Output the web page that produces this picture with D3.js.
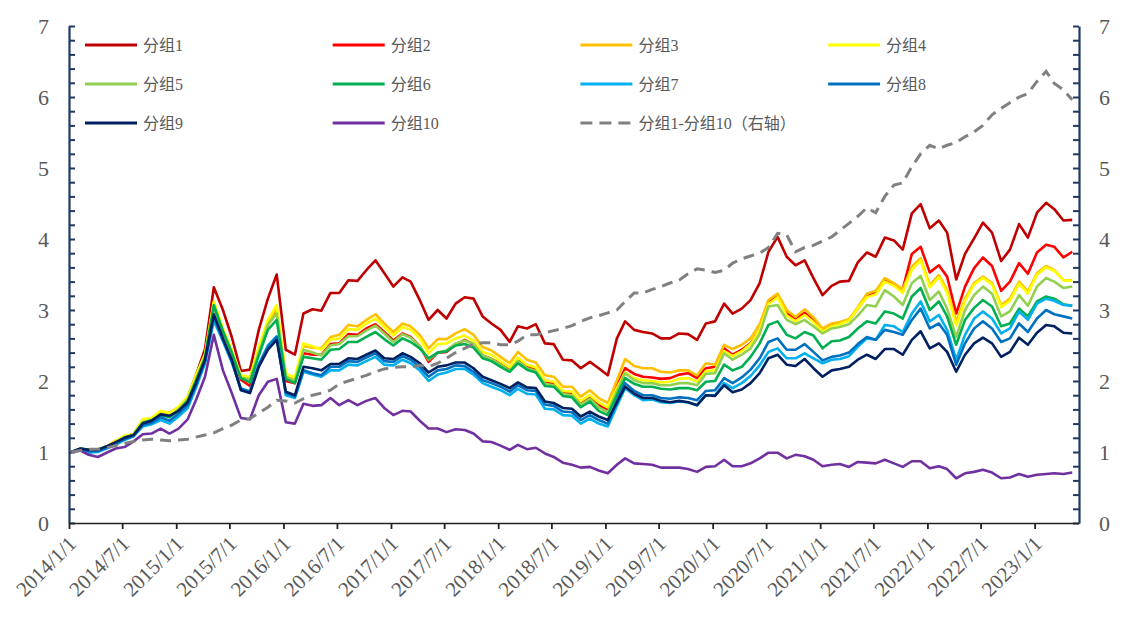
<!DOCTYPE html>
<html><head><meta charset="utf-8">
<script src="https://cdn.jsdelivr.net/npm/d3@7"></script>
<style>html,body{margin:0;padding:0;background:#fff;}svg{display:block;}</style>
</head><body>
<svg id="c" width="1122" height="630"></svg>
<script>
// ---- data (monthly, 2014/1 .. 2023/5) ----
const startYear = 2014, startMonth = 0, nMonths = 113;
const names = ["分组1","分组2","分组3","分组4","分组5","分组6","分组7","分组8","分组9","分组10","分组1-分组10（右轴）"];
const colors = ["#C00000","#FF0000","#FFC000","#FFFF00","#92D050","#00B050","#00B0F0","#0070C0","#002060","#7030A0","#808080"];
const yTicks = [0,1,2,3,4,5,6,7];

const g1 = [1.00,1.04,1.03,1.03,1.07,1.14,1.22,1.25,1.45,1.47,1.56,1.55,1.63,1.77,2.08,2.45,
3.32,3.00,2.62,2.14,2.16,2.72,3.16,3.50,2.44,2.37,2.95,3.01,2.99,
3.24,3.24,3.42,3.41,3.56,3.70,3.52,3.33,3.46,3.40,3.14,2.86,3.00,2.88,3.09,3.18,3.16,2.91,2.81,2.72,2.55,2.77,2.74,2.80,2.53,2.52,2.30,2.29,2.18,2.27,2.18,2.08,
2.60,2.84,2.72,2.69,2.67,2.60,2.60,2.67,2.66,2.58,2.81,2.84,3.09,2.95,3.02,3.14,3.38,3.82,4.03,3.75,3.63,3.70,3.45,3.21,3.34,3.40,3.41,3.67,3.81,
3.75,4.02,3.98,3.85,4.36,4.49,4.15,4.26,4.09,3.43,3.79,4.01,4.23,4.09,3.69,3.85,4.21,4.02,4.37,4.51,4.42,4.26,4.27];
const g2 = [1.00,1.04,1.02,1.03,1.07,1.14,1.21,1.24,1.43,1.45,1.54,1.52,1.61,1.75,2.04,2.35,
3.08,2.70,2.40,2.02,1.93,2.42,2.80,3.00,2.00,1.97,2.39,2.37,2.37,
2.52,2.53,2.66,2.65,2.74,2.80,2.69,2.57,2.67,2.62,2.49,2.27,2.40,2.41,2.51,2.58,2.52,2.36,2.31,2.24,2.16,2.30,2.20,2.16,1.98,1.96,1.84,1.82,1.69,1.77,1.66,1.59,
1.93,2.18,2.10,2.06,2.05,2.03,2.04,2.09,2.11,2.04,2.18,2.20,2.46,2.37,2.44,2.53,2.72,3.12,3.21,2.95,2.88,2.96,2.85,2.72,2.79,2.82,2.86,3.02,3.19,
3.26,3.42,3.35,3.29,3.79,3.89,3.53,3.63,3.47,2.95,3.33,3.59,3.74,3.62,3.27,3.40,3.66,3.51,3.81,3.92,3.89,3.74,3.82];
const g3 = [1.00,1.04,1.03,1.03,1.08,1.16,1.22,1.24,1.44,1.46,1.55,1.53,1.62,1.76,2.05,2.36,
3.10,2.72,2.42,2.07,2.04,2.45,2.82,3.02,2.08,2.03,2.49,2.47,2.46,
2.62,2.65,2.79,2.77,2.86,2.94,2.81,2.69,2.81,2.77,2.65,2.46,2.59,2.59,2.67,2.73,2.65,2.48,2.43,2.34,2.25,2.41,2.30,2.26,2.08,2.06,1.92,1.92,1.78,1.87,1.76,1.69,
2.01,2.31,2.21,2.18,2.18,2.13,2.12,2.15,2.15,2.08,2.25,2.23,2.51,2.45,2.51,2.60,2.80,3.14,3.23,3.00,2.90,3.01,2.90,2.74,2.81,2.83,2.87,3.04,3.23,
3.27,3.45,3.38,3.29,3.61,3.73,3.35,3.49,3.28,2.84,3.16,3.38,3.47,3.38,3.07,3.16,3.40,3.26,3.52,3.62,3.56,3.42,3.42];
const g4 = [1.00,1.04,1.03,1.03,1.07,1.15,1.23,1.25,1.46,1.48,1.58,1.55,1.64,1.78,2.08,2.38,
3.12,2.74,2.44,2.08,2.06,2.48,2.86,3.07,2.10,2.05,2.53,2.49,2.44,
2.58,2.60,2.73,2.72,2.81,2.88,2.76,2.64,2.76,2.72,2.60,2.39,2.52,2.53,2.60,2.64,2.57,2.41,2.37,2.28,2.19,2.33,2.23,2.19,2.01,1.99,1.86,1.85,1.72,1.80,1.70,1.63,
1.90,2.12,2.04,2.01,2.00,1.98,1.99,2.03,2.04,1.99,2.14,2.15,2.42,2.35,2.42,2.52,2.72,3.08,3.18,2.92,2.84,2.93,2.83,2.70,2.77,2.80,2.85,3.02,3.18,
3.22,3.40,3.34,3.24,3.57,3.70,3.32,3.46,3.24,2.78,3.13,3.36,3.45,3.36,3.04,3.13,3.37,3.23,3.50,3.60,3.55,3.42,3.41];
const g5 = [1.00,1.04,1.02,1.02,1.06,1.13,1.21,1.24,1.42,1.44,1.53,1.50,1.60,1.74,2.02,2.34,
3.04,2.70,2.40,2.05,2.02,2.40,2.79,2.95,2.06,2.00,2.44,2.40,2.36,
2.50,2.52,2.63,2.63,2.71,2.78,2.67,2.55,2.66,2.61,2.49,2.30,2.40,2.43,2.53,2.57,2.52,2.36,2.31,2.23,2.14,2.28,2.18,2.14,1.96,1.94,1.82,1.80,1.67,1.75,1.63,1.56,
1.86,2.11,2.01,1.97,1.97,1.94,1.94,1.97,1.97,1.94,2.10,2.11,2.39,2.30,2.37,2.46,2.66,3.05,3.07,2.86,2.80,2.86,2.77,2.67,2.74,2.76,2.80,2.92,3.07,
3.05,3.28,3.19,3.07,3.38,3.48,3.14,3.26,3.02,2.62,3.00,3.21,3.33,3.23,2.91,2.98,3.21,3.06,3.33,3.45,3.40,3.31,3.33];
const g6 = [1.00,1.05,1.03,1.02,1.06,1.13,1.20,1.24,1.41,1.45,1.52,1.49,1.58,1.72,2.00,2.33,
3.07,2.70,2.40,2.04,1.98,2.36,2.72,2.86,2.03,1.97,2.34,2.32,2.30,
2.44,2.45,2.55,2.55,2.62,2.69,2.59,2.50,2.60,2.55,2.46,2.32,2.40,2.42,2.50,2.52,2.47,2.32,2.28,2.20,2.13,2.25,2.16,2.12,1.93,1.92,1.79,1.77,1.63,1.71,1.58,1.52,
1.80,2.04,1.96,1.92,1.92,1.89,1.88,1.90,1.90,1.87,1.99,2.00,2.23,2.15,2.20,2.34,2.53,2.79,2.84,2.65,2.60,2.69,2.64,2.46,2.56,2.57,2.62,2.74,2.84,
2.81,2.98,2.95,2.88,3.19,3.31,3.00,3.12,2.91,2.51,2.86,3.03,3.14,3.05,2.77,2.81,3.02,2.91,3.12,3.19,3.16,3.08,3.06];
const g7 = [1.00,1.03,0.99,1.00,1.05,1.10,1.17,1.22,1.36,1.39,1.45,1.40,1.50,1.62,1.90,2.25,
2.85,2.56,2.26,1.90,1.85,2.24,2.50,2.63,1.80,1.76,2.13,2.09,2.06,
2.15,2.15,2.23,2.22,2.28,2.34,2.23,2.22,2.30,2.25,2.15,2.00,2.09,2.12,2.17,2.17,2.09,1.97,1.92,1.87,1.80,1.89,1.82,1.81,1.61,1.60,1.52,1.51,1.40,1.47,1.40,1.36,
1.65,1.90,1.80,1.73,1.74,1.70,1.69,1.71,1.70,1.66,1.80,1.80,1.97,1.90,1.97,2.07,2.22,2.41,2.46,2.32,2.32,2.39,2.32,2.25,2.30,2.31,2.35,2.48,2.60,
2.58,2.79,2.77,2.69,2.95,3.12,2.84,2.93,2.72,2.30,2.65,2.88,2.98,2.88,2.67,2.74,2.98,2.86,3.09,3.16,3.13,3.07,3.06];
const g8 = [1.00,1.04,1.01,1.01,1.06,1.12,1.18,1.23,1.38,1.41,1.49,1.44,1.54,1.66,1.94,2.28,
2.90,2.58,2.28,1.89,1.85,2.22,2.48,2.62,1.83,1.78,2.15,2.11,2.08,
2.20,2.20,2.28,2.27,2.33,2.39,2.28,2.27,2.35,2.30,2.20,2.06,2.15,2.17,2.22,2.21,2.13,2.01,1.97,1.92,1.85,1.94,1.87,1.86,1.67,1.65,1.57,1.56,1.45,1.52,1.45,1.40,
1.72,1.97,1.86,1.80,1.80,1.76,1.75,1.77,1.76,1.73,1.86,1.87,2.04,1.97,2.05,2.16,2.32,2.55,2.60,2.44,2.44,2.52,2.41,2.29,2.34,2.36,2.40,2.52,2.62,
2.58,2.72,2.69,2.65,2.86,3.02,2.74,2.81,2.65,2.23,2.53,2.74,2.84,2.74,2.55,2.60,2.81,2.69,2.88,3.00,2.94,2.91,2.88];
const g9 = [1.00,1.05,1.03,1.03,1.08,1.14,1.20,1.24,1.40,1.44,1.53,1.51,1.58,1.70,1.97,2.30,
2.94,2.60,2.30,1.87,1.83,2.20,2.44,2.58,1.85,1.80,2.20,2.18,2.15,
2.24,2.24,2.32,2.31,2.37,2.43,2.32,2.31,2.39,2.34,2.25,2.12,2.20,2.22,2.26,2.26,2.18,2.06,2.01,1.96,1.90,1.98,1.91,1.90,1.71,1.69,1.62,1.61,1.50,1.57,1.50,1.45,
1.70,1.92,1.82,1.76,1.76,1.72,1.70,1.72,1.70,1.66,1.80,1.79,1.94,1.84,1.88,1.97,2.11,2.32,2.37,2.23,2.21,2.31,2.18,2.06,2.15,2.17,2.20,2.30,2.37,
2.31,2.45,2.45,2.37,2.58,2.70,2.46,2.53,2.41,2.13,2.37,2.53,2.61,2.53,2.34,2.41,2.61,2.51,2.68,2.79,2.77,2.68,2.67];
const g10 = [1.00,1.02,0.96,0.93,0.99,1.05,1.07,1.15,1.25,1.26,1.33,1.26,1.33,1.46,1.73,2.06,
2.65,2.15,1.83,1.48,1.46,1.80,1.99,2.03,1.42,1.40,1.68,1.65,1.66,
1.76,1.66,1.73,1.66,1.72,1.76,1.62,1.52,1.58,1.57,1.44,1.33,1.33,1.28,1.32,1.31,1.26,1.15,1.14,1.09,1.03,1.10,1.04,1.06,0.98,0.93,0.85,0.82,0.78,0.79,0.74,0.70,
0.82,0.91,0.84,0.83,0.82,0.78,0.78,0.78,0.76,0.72,0.79,0.80,0.89,0.80,0.80,0.84,0.91,0.99,0.99,0.91,0.96,0.94,0.89,0.80,0.82,0.83,0.79,0.86,0.85,
0.84,0.89,0.84,0.79,0.87,0.87,0.77,0.80,0.76,0.63,0.70,0.72,0.75,0.71,0.63,0.64,0.69,0.65,0.68,0.69,0.70,0.69,0.71];
const spread = [1.00,1.02,1.04,1.04,1.06,1.09,1.12,1.15,1.17,1.18,1.17,1.16,1.17,1.18,1.21,1.24,
1.27,1.33,1.38,1.45,1.47,1.55,1.63,1.73,1.72,1.69,1.75,1.80,1.83,
1.87,1.96,2.00,2.04,2.08,2.13,2.17,2.19,2.20,2.20,2.22,2.20,2.25,2.32,2.40,2.46,2.52,2.54,2.54,2.51,2.51,2.56,2.65,2.65,2.68,2.71,2.74,2.78,2.84,2.89,2.92,2.96,
3.00,3.12,3.24,3.24,3.29,3.33,3.38,3.42,3.51,3.58,3.56,3.53,3.56,3.66,3.72,3.76,3.80,3.88,4.08,4.06,3.82,3.88,3.91,3.97,4.03,4.12,4.22,4.32,4.44,
4.37,4.60,4.76,4.79,5.02,5.20,5.32,5.27,5.32,5.36,5.44,5.51,5.60,5.75,5.84,5.92,6.00,6.05,6.22,6.36,6.19,6.10,5.96];

const leftSeries = [g1,g2,g3,g4,g5,g6,g7,g8,g9,g10];
const months = d3.range(nMonths).map(i => new Date(startYear, startMonth + i, 9));

// ---- layout ----
const svg = d3.select("#c");
const W = 1122, H = 630;
const L = 69, R = 1079, T = 26, B = 523;
const x = d3.scaleTime().domain([new Date(2014,0,1), new Date(2023,5,1)]).range([L, R]);
const y = d3.scaleLinear().domain([0,7]).range([B, T]);
const y2 = d3.scaleLinear().domain([0,7]).range([B, T]);
const numFont = "'Liberation Serif','Times New Roman',serif";
const labelColor = "#595959";
const axisColor = "#1F3864";

svg.append("rect").attr("width",W).attr("height",H).attr("fill","#fff");

const minor = d3.range(0, 7.0001, 0.2);
const fmtInt = d => (Math.abs(d - Math.round(d)) < 1e-6 ? String(Math.round(d)) : "");

// left axis
const gl = svg.append("g").attr("transform",`translate(${L},0)`)
  .call(d3.axisLeft(y).tickValues(minor).tickSizeInner(-6).tickSizeOuter(0).tickPadding(20).tickFormat(fmtInt));
// right axis
const gr = svg.append("g").attr("transform",`translate(${R},0)`)
  .call(d3.axisRight(y2).tickValues(minor).tickSizeInner(-6).tickSizeOuter(0).tickPadding(20).tickFormat(fmtInt));
[gl, gr].forEach(g => {
  g.select(".domain").attr("stroke", axisColor).attr("stroke-width", 2.2);
  g.selectAll(".tick line").attr("stroke", axisColor).attr("stroke-width", 2);
  g.selectAll(".tick text").attr("fill", labelColor).style("font-family", numFont).style("font-size","22px");
});

// bottom axis
const gb = svg.append("g").attr("transform",`translate(0,${B})`)
  .call(d3.axisBottom(x).ticks(d3.timeMonth.every(6)).tickSizeInner(6).tickSizeOuter(0).tickFormat(d3.timeFormat("%Y/%-m/%-d")));
gb.select(".domain").attr("stroke","#222").attr("stroke-width",1.6);
gb.selectAll(".tick line").attr("stroke","#222").attr("stroke-width",1.8);
gb.selectAll(".tick text")
  .attr("fill", labelColor).style("font-family", numFont).style("font-size","21px")
  .attr("text-anchor","end").attr("x",0).attr("y",0).attr("dy",0)
  .attr("transform","translate(8,22) rotate(-45)");

// series
const line = (ys) => d3.line().x((d,i) => x(months[i])).y(d => ys(d));
const plot = svg.append("g");
leftSeries.forEach((s, k) => {
  plot.append("path").datum(s).attr("d", line(y))
    .attr("fill","none").attr("stroke", colors[k]).attr("stroke-width", 2.6)
    .attr("stroke-linejoin","round");
});
plot.append("path").datum(spread).attr("d", line(y2))
  .attr("fill","none").attr("stroke", colors[10]).attr("stroke-width", 3)
  .attr("stroke-dasharray","11,7");

// legend
const lg = svg.append("g");
names.forEach((n, k) => {
  const col = k % 4, row = Math.floor(k / 4);
  const lx = 85 + col * 247.7, ly = 45 + row * 39;
  const it = lg.append("g").attr("transform", `translate(${lx},${ly})`);
  it.append("line").attr("x1",0).attr("x2",52).attr("y1",0).attr("y2",0)
    .attr("stroke", colors[k]).attr("stroke-width", 3)
    .attr("stroke-dasharray", k === 10 ? "12,7" : null);
  it.append("text").attr("x",58).attr("y",0).attr("dy","0.36em")
    .attr("fill", labelColor)
    .style("font-family","'Liberation Serif','Noto Sans CJK SC',serif").style("font-size","16px")
    .text(n);
});
</script>
</body></html>
